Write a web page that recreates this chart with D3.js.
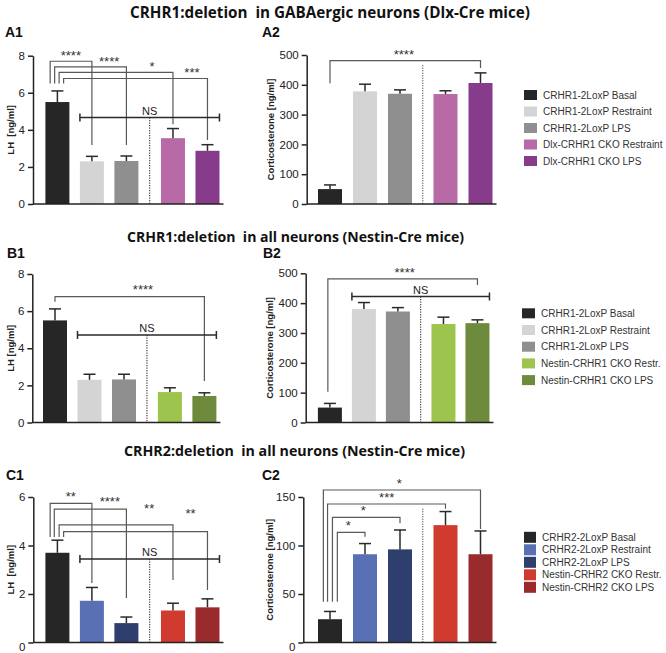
<!DOCTYPE html>
<html><head><meta charset="utf-8">
<script src="https://cdn.jsdelivr.net/npm/d3@7"></script>
<style>
body{margin:0;background:#fff;}
svg text{font-family:"Liberation Sans",Arial,sans-serif;white-space:pre;}
</style></head><body>
<svg id="chart" width="666" height="653"></svg>
<script>
// ---------------- DATA ----------------
const titles = [
  "CRHR1:deletion  in GABAergic neurons (Dlx-Cre mice)",
  "CRHR1:deletion  in all neurons (Nestin-Cre mice)",
  "CRHR2:deletion  in all neurons (Nestin-Cre mice)"
];
const panelLabels = ["A1","A2","B1","B2","C1","C2"];

const groupsA = ["CRHR1-2LoxP Basal","CRHR1-2LoxP Restraint","CRHR1-2LoxP LPS","Dlx-CRHR1 CKO Restraint","Dlx-CRHR1 CKO LPS"];
const groupsB = ["CRHR1-2LoxP Basal","CRHR1-2LoxP Restraint","CRHR1-2LoxP LPS","Nestin-CRHR1 CKO Restr.","Nestin-CRHR1 CKO LPS"];
const groupsC = ["CRHR2-2LoxP Basal","CRHR2-2LoxP Restraint","CRHR2-2LoxP LPS","Nestin-CRHR2 CKO Restr.","Nestin-CRHR2 CKO LPS"];

const lhA = [5.5, 2.3, 2.32, 3.55, 2.87];
const lhAErr = [0.6, 0.27, 0.27, 0.52, 0.33];
const corticoA = [50, 378, 370, 369, 406];
const corticoAErr = [14, 24, 13, 11, 34];

const lhB = [5.5, 2.3, 2.32, 1.64, 1.43];
const lhBErr = [0.62, 0.3, 0.28, 0.23, 0.17];
const corticoB = [50, 380, 372, 330, 333];
const corticoBErr = [14, 22, 13, 23, 11];

const lhC = [3.7, 1.72, 0.8, 1.32, 1.45];
const lhCErr = [0.52, 0.55, 0.25, 0.3, 0.35];
const corticoC = [24, 91, 96, 121, 91];
const corticoCErr = [8, 11, 20, 14, 24];

const ticksLH8 = [0, 2, 4, 6, 8];
const ticksLH6 = [0, 2, 4, 6];
const ticksCort500 = [0, 100, 200, 300, 400, 500];
const ticksCort150 = [0, 50, 100, 150];

const starsA1 = ["****", "****", "*", "***"];
const starsA2 = ["****"];
const starsB1 = ["****"];
const starsB2 = ["****"];
const starsC1 = ["**", "****", "**", "**"];
const starsC2 = ["*", "***", "*", "*"];
const nsLabel = "NS";

// ---------------- STYLE ----------------
const colorsA = ["#262626","#d4d4d4","#8f8f8f","#b86aa7","#863b8b"];
const colorsB = ["#262626","#d4d4d4","#8f8f8f","#9dc44d","#6e8a3d"];
const colorsC = ["#262626","#5a70b5","#2f3f6d","#d13b2f","#9a2b2c"];

const svg = d3.select("#chart");

function drawPanel(cfg) {
  const g = svg.append("g");
  const pos = i => i + (i >= 3 ? cfg.gap : 0);
  const x = d3.scaleLinear().domain([0, 1]).range([cfg.xFirst, cfg.xFirst + cfg.step]);
  const y = d3.scaleLinear().domain([0, cfg.ymax]).range([cfg.y0, cfg.yTop]);
  const bw = 24;
  const dotX = x((pos(2) + pos(3)) / 2);

  g.selectAll("rect.bar").data(cfg.values).join("rect")
    .attr("x", (d, i) => x(pos(i)) - bw / 2)
    .attr("y", d => y(d))
    .attr("width", bw)
    .attr("height", d => y(0) - y(d))
    .attr("fill", (d, i) => cfg.colors[i]);

  const eb = g.selectAll("g.err").data(cfg.values).join("g");
  eb.append("line")
    .attr("x1", (d, i) => x(pos(i))).attr("x2", (d, i) => x(pos(i)))
    .attr("y1", d => y(d)).attr("y2", (d, i) => y(d + cfg.errors[i]))
    .attr("stroke", "#2a2a2a").attr("stroke-width", 1.5);
  eb.append("line")
    .attr("x1", (d, i) => x(pos(i)) - 6).attr("x2", (d, i) => x(pos(i)) + 6)
    .attr("y1", (d, i) => y(d + cfg.errors[i])).attr("y2", (d, i) => y(d + cfg.errors[i]))
    .attr("stroke", "#2a2a2a").attr("stroke-width", 1.5);

  g.append("line")
    .attr("x1", dotX).attr("x2", dotX)
    .attr("y1", y(cfg.dotTop)).attr("y2", y(0))
    .attr("stroke", "#333").attr("stroke-width", 1.1).attr("stroke-dasharray", "1.2,1.3");

  (cfg.brackets || []).forEach((b, k) => {
    const xl = x(b.l), xr = x(pos(b.r));
    g.append("path")
      .attr("d", `M${xl},${y(b.lEnd)}V${y(b.top)}H${xr}V${y(b.rEnd)}`)
      .attr("fill", "none").attr("stroke", "#595959").attr("stroke-width", 1.2);
    g.append("text")
      .attr("x", x(b.lx)).attr("y", y(b.ly) + 1)
      .attr("text-anchor", "middle").attr("font-size", 13).attr("fill", "#333")
      .text(cfg.stars[k]);
  });

  if (cfg.ns) {
    const x1 = x(pos(cfg.ns.from)) - bw / 2, x2 = x(pos(cfg.ns.to)) + bw / 2, yy = y(cfg.ns.v);
    g.append("path")
      .attr("d", `M${x1},${yy - 4}V${yy + 4}M${x1},${yy}H${x2}M${x2},${yy - 4}V${yy + 4}`)
      .attr("fill", "none").attr("stroke", "#2a2a2a").attr("stroke-width", 1.5);
    g.append("text")
      .attr("x", dotX).attr("y", yy - 3)
      .attr("text-anchor", "middle").attr("font-size", 11).attr("fill", "#222")
      .text(nsLabel);
  }

  const ax = d3.axisLeft(y).tickValues(cfg.ticks).tickFormat(d3.format("d"))
    .tickSize(5).tickSizeOuter(0).tickPadding(3);
  const axg = g.append("g").attr("transform", `translate(${cfg.axisX},0)`).call(ax);
  axg.selectAll("path,line").attr("stroke", "#222").attr("stroke-width", 1.5);
  axg.selectAll("text").attr("font-size", 11.5).attr("fill", "#222")
    .style("font-family", "'Liberation Sans',Arial,sans-serif");
  if (cfg.zeroShift) {
    axg.selectAll(".tick").filter(d => d === 0).select("text").attr("y", cfg.zeroShift);
  }
  g.append("line")
    .attr("x1", cfg.axisX).attr("x2", x(pos(4)) + bw / 2 + 4)
    .attr("y1", y(0)).attr("y2", y(0))
    .attr("stroke", "#222").attr("stroke-width", 1.5);

  g.append("text")
    .attr("transform", `translate(${cfg.yLabelX},${(cfg.y0 + cfg.yTop) / 2}) rotate(-90)`)
    .attr("text-anchor", "middle").attr("font-size", 9.5).attr("font-weight", "bold").attr("fill", "#222")
    .text(cfg.yLabel);
}

function drawLegend(names, colors, lx, yFirst, dy, sw, sh, fs) {
  const g = svg.append("g");
  const rows = g.selectAll("g").data(names).join("g")
    .attr("transform", (d, i) => `translate(${lx},${yFirst + i * dy})`);
  rows.append("rect").attr("x", 0).attr("y", -sh / 2).attr("width", sw).attr("height", sh)
    .attr("fill", (d, i) => colors[i]);
  rows.append("text").attr("x", sw + 6).attr("y", 0).attr("dy", "0.35em")
    .attr("font-size", fs).attr("fill", "#333").text(d => d);
}

// ---------------- PANELS ----------------
drawPanel({values: lhA, errors: lhAErr, colors: colorsA, ticks: ticksLH8, ymax: 8,
  xFirst: 57.4, step: 34.5, gap: 0.35, y0: 204, yTop: 55.7, axisX: 33,
  yLabel: "LH  [ng/ml]", yLabelX: 14, dotTop: 4.66, ns: {from: 1, to: 4, v: 4.66}, stars: starsA1,
  brackets: [
    {l: -0.21, r: 1, top: 7.7, lEnd: 6.5, rEnd: 3.18, lx: 0.39, ly: 7.81},
    {l: -0.08, r: 2, top: 7.4, lEnd: 6.5, rEnd: 3.18, lx: 1.5, ly: 7.52},
    {l: 0.05, r: 3, top: 7.1, lEnd: 6.5, rEnd: 4.3, lx: 2.74, ly: 7.22},
    {l: 0.18, r: 4, top: 6.77, lEnd: 6.5, rEnd: 3.45, lx: 3.9, ly: 6.9}
  ]});

drawPanel({values: corticoA, errors: corticoAErr, colors: colorsA, ticks: ticksCort500, ymax: 500,
  xFirst: 330, step: 35, gap: 0.3, y0: 204, yTop: 55, axisX: 306.7,
  yLabel: "Corticosterone [ng/ml]", yLabelX: 274, dotTop: 466, stars: starsA2,
  brackets: [
    {l: 0, r: 4, top: 481, lEnd: 405, rEnd: 456, lx: 2.11, ly: 489}
  ]});

drawPanel({values: lhB, errors: lhBErr, colors: colorsB, ticks: ticksLH8, ymax: 8,
  xFirst: 55, step: 34.5, gap: 0.33, y0: 422.5, yTop: 274, axisX: 32.3,
  yLabel: "LH [ng/ml]", yLabelX: 14, dotTop: 4.71, ns: {from: 1, to: 4, v: 4.71}, stars: starsB1,
  brackets: [
    {l: 0, r: 4, top: 6.78, lEnd: 6.5, rEnd: 2.24, lx: 2.55, ly: 7.0}
  ]});

drawPanel({values: corticoB, errors: corticoBErr, colors: colorsB, ticks: ticksCort500, ymax: 500,
  xFirst: 329.9, step: 34, gap: 0.34, y0: 422.5, yTop: 273.3, axisX: 305.7,
  yLabel: "Corticosterone [ng/ml]", yLabelX: 273, dotTop: 422, ns: {from: 1, to: 4, v: 422}, stars: starsB2,
  brackets: [
    {l: -0.06, r: 4, top: 481.5, lEnd: 103, rEnd: 461, lx: 2.2, ly: 491}
  ]});

drawPanel({values: lhC, errors: lhCErr, colors: colorsC, ticks: ticksLH6, ymax: 6,
  xFirst: 57.4, step: 34.5, gap: 0.35, y0: 642.5, yTop: 497, axisX: 33.3, zeroShift: 4,
  yLabel: "LH  [ng/ml]", yLabelX: 14, dotTop: 3.44, ns: {from: 1, to: 4, v: 3.44}, stars: starsC1,
  brackets: [
    {l: -0.21, r: 1, top: 5.74, lEnd: 4.35, rEnd: 2.45, lx: 0.39, ly: 5.88},
    {l: -0.09, r: 2, top: 5.5, lEnd: 4.35, rEnd: 1.83, lx: 1.52, ly: 5.67},
    {l: 0.05, r: 3, top: 4.85, lEnd: 4.35, rEnd: 2.58, lx: 2.66, ly: 5.4},
    {l: 0.18, r: 4, top: 4.57, lEnd: 4.35, rEnd: 2.16, lx: 3.86, ly: 5.18}
  ]});

drawPanel({values: corticoC, errors: corticoCErr, colors: colorsC, ticks: ticksCort150, ymax: 150,
  xFirst: 330, step: 35, gap: 0.3, y0: 642.5, yTop: 497, axisX: 303.3, zeroShift: 4,
  yLabel: "Corticosterone [ng/ml]", yLabelX: 273, dotTop: 138, stars: starsC2,
  brackets: [
    {l: -0.19, r: 4, top: 157.2, lEnd: 42, rEnd: 117, lx: 1.98, ly: 160.3},
    {l: -0.07, r: 3, top: 142.8, lEnd: 42, rEnd: 138, lx: 1.62, ly: 145.9},
    {l: 0.07, r: 2, top: 129, lEnd: 42, rEnd: 122.9, lx: 0.95, ly: 132},
    {l: 0.21, r: 1, top: 113.6, lEnd: 42, rEnd: 109, lx: 0.52, ly: 117.5}
  ]});

drawLegend(groupsA, colorsA, 524, 95, 16.5, 13, 10, 10);
drawLegend(groupsB, colorsB, 522, 313.3, 16.7, 13, 10, 10);
drawLegend(groupsC, colorsC, 524, 537.3, 12.5, 12, 11, 10);

const titleSpecs = [
  {x: 130, y: 18, fs: 15.5, len: 400},
  {x: 127, y: 242, fs: 14, len: 337},
  {x: 124, y: 456, fs: 14, len: 341}
];
svg.selectAll("text.title").data(titles).join("text").attr("class", "title")
  .attr("x", (d, i) => titleSpecs[i].x).attr("y", (d, i) => titleSpecs[i].y)
  .attr("font-size", (d, i) => titleSpecs[i].fs).attr("font-weight", "bold")
  .attr("textLength", (d, i) => titleSpecs[i].len).attr("lengthAdjust", "spacingAndGlyphs")
  .style("font-family", "'Open Sans','Noto Sans',sans-serif").attr("fill", "#111")
  .text(d => d);

const plPos = [[5, 37], [262, 37], [7, 258], [263, 258], [6, 480], [262, 480]];
svg.selectAll("text.pl").data(panelLabels).join("text").attr("class", "pl")
  .attr("x", (d, i) => plPos[i][0]).attr("y", (d, i) => plPos[i][1])
  .attr("font-size", 14).attr("font-weight", "bold").attr("fill", "#111")
  .text(d => d);
</script>
</body></html>
